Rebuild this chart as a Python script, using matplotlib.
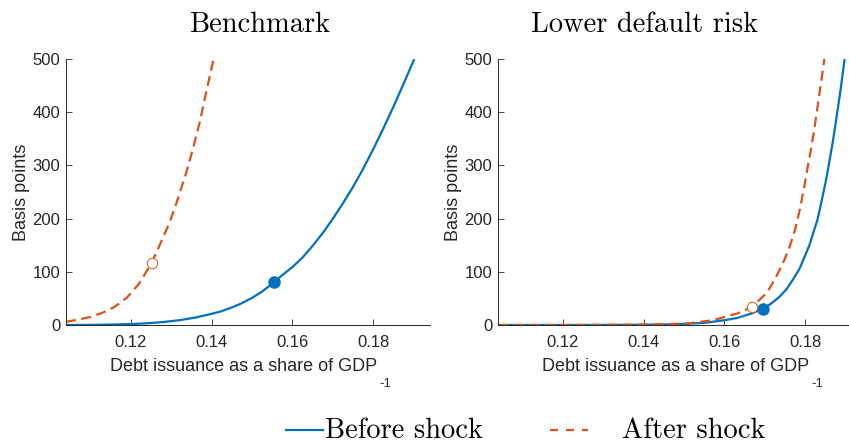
import matplotlib
matplotlib.use("Agg")
import matplotlib.pyplot as plt
from matplotlib.lines import Line2D

# Benchmark panel
bench_before_x = [0.104, 0.108, 0.112, 0.116, 0.120, 0.124, 0.128, 0.132, 0.136, 0.140,
                  0.1425, 0.145, 0.1475, 0.150, 0.1525, 0.1554, 0.1575, 0.160, 0.1625,
                  0.165, 0.1675, 0.170, 0.1725, 0.175, 0.1775, 0.180, 0.1825, 0.185,
                  0.1875, 0.190]
bench_before_y = [0, 0.1, 0.4, 1, 1.8, 3.2, 5.5, 9, 14, 21,
                  26, 33, 41, 51, 63, 80, 94, 109, 127,
                  149, 173, 200, 229, 260, 294, 331, 370, 411,
                  454, 498]
bench_after_x = [0.104, 0.107, 0.110, 0.113, 0.116, 0.119, 0.122, 0.1252, 0.1268,
                 0.1297, 0.1317, 0.1338, 0.1354, 0.1371, 0.1387, 0.1405]
bench_after_y = [6, 10, 15, 23, 34, 51, 77, 117, 144,
                 194, 238, 288, 332, 382, 439, 500]
bench_before_pt = (0.1554, 80)
bench_after_pt = (0.1252, 117)

# Lower default risk panel
low_before_x = [0.104, 0.120, 0.130, 0.140, 0.145, 0.150, 0.155, 0.160, 0.163, 0.1665,
                0.1695, 0.1715, 0.1736, 0.1753, 0.1769, 0.1785, 0.1798, 0.181, 0.1819,
                0.183, 0.1839, 0.185, 0.186, 0.1868, 0.1876, 0.1887, 0.1897]
low_before_y = [0, 0, 0.1, 0.5, 1, 2, 4, 9, 13, 21,
                31, 40, 53, 67, 85, 105, 128, 150, 172,
                198, 229, 268, 310, 345, 385, 442, 500]
low_after_x = [0.104, 0.120, 0.130, 0.140, 0.145, 0.151, 0.1572, 0.1633, 0.1668, 0.1704,
               0.172, 0.1736, 0.1749, 0.1761, 0.1774, 0.1786, 0.1796, 0.1806, 0.1815,
               0.1823, 0.1835, 0.1847]
low_after_y = [0, 0, 0.2, 0.8, 1.5, 3, 9, 22, 34, 60,
               80, 103, 124, 147, 178, 216, 255, 298, 335,
               373, 436, 500]
low_before_pt = (0.1695, 31)
low_after_pt = (0.1668, 34)

titles = ["Benchmark", "Lower default risk"]
legend_labels = ["Before shock", "After shock"]
x_ticks = [0.12, 0.14, 0.16, 0.18]
x_tick_labels = ["0.12", "0.14", "0.16", "0.18"]
y_ticks = [0, 100, 200, 300, 400, 500]

blue = "#0072BD"
orange = "#D95319"
dark = "#262626"
dash = (0, (4.5, 2.5))

plt.rcParams["font.family"] = ["Liberation Sans", "DejaVu Sans"]

W, H = 849, 445
fig = plt.figure(figsize=(W / 100, H / 100), dpi=100)
ax_w = 364 / W
ax_h = 266 / H
ax1 = fig.add_axes([66 / W, 1 - 325 / H, ax_w, ax_h])
ax2 = fig.add_axes([498 / W, 1 - 325 / H, ax_w, ax_h])

panels = [
    (ax1, bench_before_x, bench_before_y, bench_after_x, bench_after_y, bench_before_pt, bench_after_pt),
    (ax2, low_before_x, low_before_y, low_after_x, low_after_y, low_before_pt, low_after_pt),
]

for ax, bx, by, ox, oy, bpt, opt in panels:
    ax.plot(bx, by, color=blue, lw=1.6)
    ax.plot(ox, oy, color=orange, lw=1.6, linestyle=dash)
    ax.plot(*bpt, "o", color=blue, markersize=8, zorder=5)
    ax.plot(*opt, "o", markerfacecolor="white", markeredgecolor=orange,
            markeredgewidth=0.7, markersize=7.5, zorder=5)
    ax.set_xlim(0.104, 0.194)
    ax.set_ylim(0, 500)
    ax.set_xticks(x_ticks)
    ax.set_xticklabels(x_tick_labels)
    ax.set_yticks(y_ticks)
    ax.tick_params(direction="in", length=4, width=0.6, labelsize=12, colors=dark)
    ax.tick_params(axis="y", pad=4)
    ax.tick_params(axis="x", pad=7)
    for s in ["top", "right"]:
        ax.spines[s].set_visible(False)
    for s in ["left", "bottom"]:
        ax.spines[s].set_color(dark)
        ax.spines[s].set_linewidth(0.7)
    ax.set_ylabel("Basis points", fontsize=13, color=dark)
    ax.yaxis.set_label_coords(-0.10, 0.5)
    ax.set_xlabel("Debt issuance as a share of GDP", fontsize=13, color=dark)
    ax.xaxis.set_label_coords(0.489, -0.125)

# titles
fig.text(260 / W, 1 - 32 / H, titles[0], family="cmr10", fontsize=20.5,
         ha="center", va="baseline")
fig.text(645 / W, 1 - 32 / H, titles[1], family="cmr10", fontsize=20.5,
         ha="center", va="baseline")

# subscript "-1" after GDP
fig.canvas.draw()
renderer = fig.canvas.get_renderer()
for ax in [ax1, ax2]:
    bb = ax.xaxis.label.get_window_extent(renderer)
    fig.text((bb.x1 + 2) / W, (bb.y0 - 12) / H, "-1", fontsize=9.5, color=dark,
             ha="left", va="baseline")

# legend below the panels
ly = 1 - 430 / H
base = 1 - 438 / H
fig.add_artist(Line2D([286 / W, 323 / W], [ly, ly], color=blue, lw=1.6,
                      transform=fig.transFigure))
fig.text(325 / W, base, legend_labels[0], family="cmr10", fontsize=20.5,
         ha="left", va="baseline")
fig.add_artist(Line2D([550 / W, 588 / W], [ly, ly], color=orange, lw=1.6,
                      linestyle=(0, (3.6, 3.6)), transform=fig.transFigure))
fig.text(622 / W, base, legend_labels[1], family="cmr10", fontsize=20.5,
         ha="left", va="baseline")

fig.savefig("out.png", dpi=100)
